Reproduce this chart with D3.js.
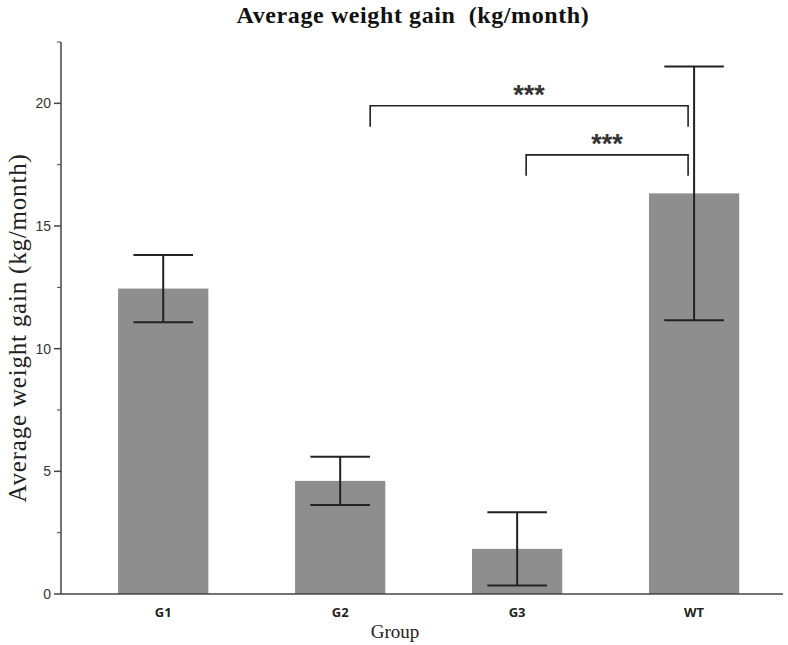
<!DOCTYPE html>
<html><head><meta charset="utf-8">
<script src="https://cdn.jsdelivr.net/npm/d3@7"></script>
<style>body{margin:0;background:#fff}</style>
</head><body>
<script>
const categories = ["G1", "G2", "G3", "WT"];
const means = [12.45, 4.61, 1.84, 16.33];
const errors = [1.37, 0.98, 1.49, 5.17];
const yTicks = [0, 5, 10, 15, 20];
const yMinorTicks = [2.5, 7.5, 12.5, 17.5, 22.5];
const sigLabels = ["***", "***"];
const sigFrom = ["G2", "G3"];
const sigTo = ["WT", "WT"];
const sigLevel = [19.9, 17.9];

const W = 788, H = 645;
const m = {left: 61, right: 5, top: 42, bottom: 51};
const svg = d3.select("body").append("svg").attr("width", W).attr("height", H);

const x = d3.scaleBand().domain(categories).range([m.left, W - m.right])
  .paddingInner(0.49).paddingOuter(0.285).align(0.566);
const y = d3.scaleLinear().domain([0, 22.5]).range([H - m.bottom, m.top]);

// bars
svg.selectAll("rect.bar").data(categories).enter().append("rect")
  .attr("x", d => x(d)).attr("width", x.bandwidth())
  .attr("y", (d, i) => y(means[i])).attr("height", (d, i) => y(0) - y(means[i]))
  .attr("fill", "#8e8e8e");

// error bars
const cap = x.bandwidth() * 0.66;
const eg = svg.append("g").attr("stroke", "#222").attr("stroke-width", 2);
categories.forEach((c, i) => {
  const cx = x(c) + x.bandwidth() / 2;
  eg.append("line").attr("x1", cx).attr("x2", cx).attr("y1", y(means[i] + errors[i])).attr("y2", y(means[i] - errors[i]));
  eg.append("line").attr("x1", cx - cap / 2).attr("x2", cx + cap / 2).attr("y1", y(means[i] + errors[i])).attr("y2", y(means[i] + errors[i]));
  eg.append("line").attr("x1", cx - cap / 2).attr("x2", cx + cap / 2).attr("y1", y(means[i] - errors[i])).attr("y2", y(means[i] - errors[i]));
});

// significance brackets
const sg = svg.append("g");
sigLabels.forEach((lab, i) => {
  const x1 = i === 0 ? x(sigFrom[i]) + x.bandwidth() / 2 + 30 : x(sigFrom[i]) + x.bandwidth() / 2 + 9;
  const x2 = x(sigTo[i]) + x.bandwidth() / 2 - 6;
  const yy = y(sigLevel[i]);
  const leg = y(sigLevel[i] - 0.85);
  sg.append("path").attr("d", `M${x1},${leg}V${yy}H${x2}V${leg}`)
    .attr("fill", "none").attr("stroke", "#222").attr("stroke-width", 1.6);
  sg.append("text").attr("x", (x1 + x2) / 2).attr("y", yy - 2).attr("text-anchor", "middle")
    .attr("font-family", "Liberation Sans, Arial, sans-serif").attr("font-size", 27).attr("font-weight", "bold")
    .attr("fill", "#333").text(lab);
});

// y axis
const ya = svg.append("g").attr("transform", `translate(${m.left},0)`);
ya.append("line").attr("x1", 0).attr("x2", 0).attr("y1", m.top).attr("y2", y(0)).attr("stroke", "#444").attr("stroke-width", 1.5);
ya.selectAll("line.maj").data(yTicks).enter().append("line")
  .attr("x1", -7).attr("x2", 0).attr("y1", d => y(d)).attr("y2", d => y(d)).attr("stroke", "#444").attr("stroke-width", 1.5);
ya.selectAll("line.min").data(yMinorTicks).enter().append("line")
  .attr("x1", -4).attr("x2", 0).attr("y1", d => y(d)).attr("y2", d => y(d)).attr("stroke", "#444").attr("stroke-width", 1);
ya.selectAll("text").data(yTicks).enter().append("text")
  .attr("x", -10).attr("y", d => y(d)).attr("dy", "0.35em").attr("text-anchor", "end")
  .attr("font-family", "Liberation Sans, Arial, sans-serif").attr("font-size", 14).attr("fill", "#333").text(d => d);

// x axis
svg.append("line").attr("x1", m.left).attr("x2", W - m.right).attr("y1", y(0)).attr("y2", y(0)).attr("stroke", "#444").attr("stroke-width", 1.5);
svg.selectAll("text.xl").data(categories).enter().append("text")
  .attr("x", d => x(d) + x.bandwidth() / 2).attr("y", y(0) + 23).attr("text-anchor", "middle")
  .attr("font-family", "Open Sans, DejaVu Sans, sans-serif").attr("font-size", 13).attr("font-weight", "bold")
  .attr("fill", "#222").text(d => d);

// titles
svg.append("text").attr("x", 413).attr("y", 23).attr("text-anchor", "middle")
  .attr("xml:space", "preserve").style("white-space", "pre")
  .attr("font-family", "Liberation Serif, Times New Roman, serif").attr("font-size", 24).attr("font-weight", "bold")
  .attr("letter-spacing", 0.6)
  .attr("fill", "#111").text("Average weight gain  (kg/month)");
svg.append("text").attr("x", 395).attr("y", 638).attr("text-anchor", "middle")
  .attr("font-family", "Liberation Serif, Times New Roman, serif").attr("font-size", 19).attr("fill", "#222").text("Group");
svg.append("text").attr("transform", `translate(26,328) rotate(-90)`).attr("text-anchor", "middle")
  .attr("font-family", "Liberation Serif, Times New Roman, serif").attr("font-size", 25).attr("letter-spacing", 0.8).attr("fill", "#222")
  .text("Average weight gain (kg/month)");
</script>
</body></html>
